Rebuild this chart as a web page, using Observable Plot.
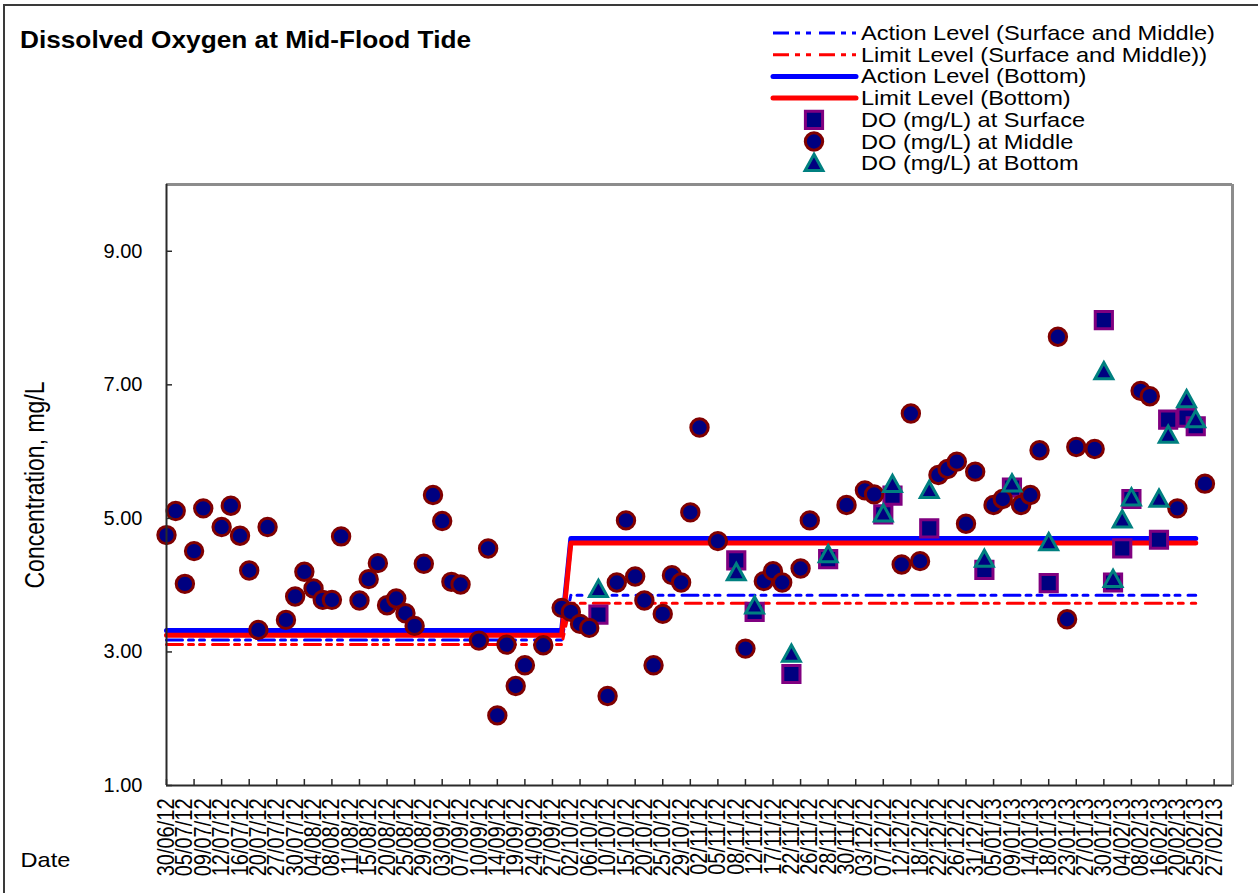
<!DOCTYPE html>
<html>
<head>
<meta charset="utf-8">
<script src="https://cdn.jsdelivr.net/npm/d3@7"></script>
<script src="https://cdn.jsdelivr.net/npm/@observablehq/plot@0.6"></script>
<style>
  html, body { margin: 0; padding: 0; background: #fff; }
  body { width: 1258px; height: 893px; overflow: hidden; position: relative;
         font-family: "Liberation Sans", Arial, sans-serif; }
  #outer { position: absolute; left: 3px; top: 4px; width: 1400px; height: 1000px; z-index: 10;
           border-left: 2px solid #3a3a3a; border-top: 2px solid #3a3a3a; pointer-events: none; }
  #header { display: block; position: relative; }
  #chart { position: relative; }
  #chart svg { display: block; }
</style>
</head>
<body>
<svg id="header" width="1258" height="180"></svg>
<div id="chart"></div>
<div id="outer"></div>
<script>
// ---------------- data ----------------
const chartTitle = "Dissolved Oxygen at Mid-Flood Tide";
const yAxisTitle = "Concentration, mg/L";
const xAxisTitle = "Date";

// x tick labels (one label for every second sampling day)
const dateLabels = ["30/06/12","05/07/12","09/07/12","12/07/12","16/07/12","20/07/12","27/07/12","30/07/12",
  "04/08/12","08/08/12","11/08/12","15/08/12","20/08/12","25/08/12","29/08/12","03/09/12","07/09/12",
  "10/09/12","14/09/12","19/09/12","24/09/12","27/09/12","02/10/12","06/10/12","10/10/12","15/10/12",
  "20/10/12","25/10/12","29/10/12","02/11/12","05/11/12","08/11/12","12/11/12","17/11/12","22/11/12",
  "26/11/12","28/11/12","30/11/12","03/12/12","07/12/12","12/12/12","18/12/12","22/12/12","26/12/12",
  "31/12/12","05/01/13","09/01/13","14/01/13","18/01/13","23/01/13","27/01/13","30/01/13","04/02/13",
  "08/02/13","16/02/13","20/02/13","25/02/13","27/02/13"];
const nCategories = 117;          // sampling-day slots on the category axis
const labelEvery = 2;             // a label on every 2nd slot
const tickEvery = 3;              // a tick mark on every 3rd slot

const yTicks = [1, 3, 5, 7, 9];
const yDomain = [1, 10];

// DO at middle depth, one value per sampling slot (null = no point)
const middleDO = [4.75,5.11,4.02,4.51,5.15,null,4.87,5.19,4.74,4.22,
  3.33,4.87,null,3.48,3.83,4.20,3.95,3.78,3.78,4.73,
  null,3.77,4.09,4.33,3.70,3.80,3.58,3.39,4.32,5.35,
  4.96,4.05,4.01,null,3.17,4.55,2.05,3.11,2.49,2.80,
  null,3.10,null,3.66,3.60,3.42,3.36,null,2.34,4.04,
  4.97,4.13,3.77,2.80,3.57,4.15,4.04,5.09,6.36,null,
  4.66,null,null,3.05,null,4.06,4.21,4.04,null,4.25,
  4.97,null,null,null,5.20,null,5.42,5.36,null,null,
  4.31,6.57,4.36,null,5.65,5.74,5.85,4.92,5.70,null,
  5.20,5.29,null,5.20,5.35,6.02,null,7.72,3.49,6.07,
  null,6.04,null,null,null,null,6.91,6.83,null,null,
  5.15,null,null,5.52];

// surface and bottom were sampled on these slots
const depthSlots = [47,62,64,68,72,78,79,83,89,92,96,102,103,104,105,108,109,111,112];
const surfaceDO  = [3.56,4.37,3.60,2.67,4.39,5.06,5.34,4.85,4.23,5.46,4.03,7.97,4.04,4.55,5.29,4.68,6.48,6.51,6.38];
const bottomDO   = [3.94,4.19,3.69,2.97,4.46,5.07,5.51,5.42,4.39,5.52,4.64,7.20,4.09,4.98,5.31,5.29,6.25,6.78,6.48];

// compliance levels: vertices of the stepped level lines
const levelSlots   = [0, 43, 44, 112];
const actionSM     = [3.18, 3.18, 3.85, 3.85];
const limitSM      = [3.11, 3.11, 3.73, 3.73];
const actionBottom = [3.32, 3.32, 4.70, 4.70];
const limitBottom  = [3.25, 3.25, 4.63, 4.63];

const legendLabels = ["Action Level (Surface and Middle)", "Limit Level (Surface and Middle))",
  "Action Level (Bottom)", "Limit Level (Bottom)", "DO (mg/L) at Surface", "DO (mg/L) at Middle", "DO (mg/L) at Bottom"];

// ---------------- styles ----------------
const FONT = "Liberation Sans, Arial, sans-serif";
const STRETCH = 1.18;
const BLUE = "#0000ff", RED = "#ff0000", NAVY = "#000080";
const DASHDOT = "16,6,5,6,5,8";

const squareSym = { draw(ctx, size) { const h = Math.sqrt(size / Math.PI);
  ctx.moveTo(-h, -h); ctx.lineTo(h, -h); ctx.lineTo(h, h); ctx.lineTo(-h, h); ctx.closePath(); } };
const triangleSym = { draw(ctx, size) { const h = Math.sqrt(size / Math.PI);
  ctx.moveTo(0, -h * 1.05); ctx.lineTo(h * 1.05, h * 0.85); ctx.lineTo(-h * 1.05, h * 0.85); ctx.closePath(); } };

const markerStyles = {
  surface: { symbol: squareSym, r: 8.6, fill: NAVY, stroke: "#800080", strokeWidth: 3 },
  middle:  { symbol: "circle", r: 8.7, fill: NAVY, stroke: "#800000", strokeWidth: 3 },
  bottom:  { symbol: triangleSym, r: 8.5, fill: NAVY, stroke: "#008080", strokeWidth: 3, strokeLinejoin: "miter" }
};
const lineStyles = [
  { stroke: BLUE, strokeWidth: 3, strokeDasharray: DASHDOT },
  { stroke: RED,  strokeWidth: 3, strokeDasharray: DASHDOT },
  { stroke: BLUE, strokeWidth: 5 },
  { stroke: RED,  strokeWidth: 5 }
];

// ---------------- tables ----------------
const middle = middleDO.map((v, i) => ({ i, v })).filter(d => d.v != null);
const surface = depthSlots.map((i, k) => ({ i, v: surfaceDO[k] }));
const bottom = depthSlots.map((i, k) => ({ i, v: bottomDO[k] }));
const levelSeries = [actionSM, limitSM, actionBottom, limitBottom]
  .map(vals => levelSlots.map((i, k) => ({ i, v: vals[k] })));
const labelSlots = dateLabels.map((_, k) => k * labelEvery);
const tickSlots = d3.range(0, labelSlots[labelSlots.length - 1] + 1, tickEvery);

// ---------------- plot ----------------
const W = 1258, H = 713;
const mTop = 4, mBottom = 108, mLeft = 166, mRight = 26;
const pxPerY = (H - mTop - mBottom) / (yDomain[1] - yDomain[0]);
const pxPerX = (W - mLeft - mRight) / (nCategories - 1);
const tickLen = 6;

const plot = Plot.plot({
  width: W, height: H,
  marginTop: mTop, marginBottom: mBottom, marginLeft: mLeft, marginRight: mRight,
  style: { fontFamily: FONT, fontSize: "20px", color: "#000", background: "#fff", overflow: "visible" },
  x: { type: "linear", domain: [0, nCategories - 1], axis: null },
  y: { type: "linear", domain: yDomain, axis: null },
  marks: [
    Plot.ruleY([yDomain[1]], { stroke: "#8c8c8c", strokeWidth: 3 }),
    Plot.ruleX([nCategories - 1], { stroke: "#8c8c8c", strokeWidth: 3 }),
    ...levelSeries.map((s, k) => Plot.line(s, { x: "i", y: "v", ...lineStyles[k] })),
    Plot.dot(surface, { x: "i", y: "v", ...markerStyles.surface }),
    Plot.dot(middle, { x: "i", y: "v", ...markerStyles.middle }),
    Plot.dot(bottom, { x: "i", y: "v", ...markerStyles.bottom }),
    Plot.ruleX([0], { stroke: "#2a2a2a", strokeWidth: 2 }),
    Plot.ruleY([yDomain[0]], { stroke: "#2a2a2a", strokeWidth: 2 }),
    Plot.ruleX(tickSlots, { x: d => d, y1: yDomain[0], y2: yDomain[0] + tickLen / pxPerY, stroke: "#2a2a2a", strokeWidth: 1.5 }),
    Plot.ruleY(yTicks, { y: d => d, x1: 0, x2: tickLen / pxPerX, stroke: "#2a2a2a", strokeWidth: 1.5 }),
    Plot.axisY({ ticks: yTicks, tickSize: 0, tickPadding: 24, tickFormat: d3.format(".2f"), fontSize: 20, label: null,
                 ariaLabel: "y-axis labels" }),
    Plot.axisX({ ticks: labelSlots, tickSize: 0, tickPadding: 13, tickRotate: -90,
                 tickFormat: i => dateLabels[i / labelEvery], fontSize: 20, label: null }),
    Plot.text([yAxisTitle], { frameAnchor: "left", dx: -131, rotate: -90, textAnchor: "middle", fontSize: 23, fill: "#000" }),
    Plot.text([xAxisTitle], { frameAnchor: "bottom-left", dx: -146, dy: 81, textAnchor: "start", fontSize: 20, fill: "#000" })
  ]
});
document.getElementById("chart").appendChild(plot);

// horizontal stretch of the text (the source picture is widened); y tick labels stay unstretched
plot.querySelectorAll("text").forEach(el => {
  const t = el.getAttribute("transform");
  if (!t) return;
  const rotated = /rotate\(\s*-?90/.test(t);
  const isYTick = /^\d+\.\d\d$/.test(el.textContent.trim());
  if (isYTick) return;
  el.setAttribute("transform", `${t} scale(${rotated ? 1 : STRETCH},${rotated ? STRETCH : 1})`);
});

// ---------------- header: title + legend ----------------
const hdr = d3.select("#header");
hdr.append("text")
  .attr("transform", `translate(20,48) scale(1.14,1)`)
  .attr("font-family", FONT).attr("font-weight", "bold").attr("font-size", 23)
  .text(chartTitle);

const lg = { x0: 773, x1: 856, mx: 814, tx: 861, y0: 33, dy: 21.7 };
const rows = hdr.append("g");
lineStyles.forEach((s, k) => {
  const y = lg.y0 + k * lg.dy;
  rows.append("line").attr("x1", lg.x0).attr("x2", lg.x1).attr("y1", y).attr("y2", y)
    .attr("stroke", s.stroke).attr("stroke-width", s.strokeWidth)
    .attr("stroke-dasharray", s.strokeDasharray || null)
    .attr("stroke-linecap", s.strokeDasharray ? "butt" : "round");
});
["surface", "middle", "bottom"].forEach((key, j) => {
  const k = 4 + j, y = lg.y0 + k * lg.dy, st = markerStyles[key];
  const sym = key === "middle" ? d3.symbolCircle : st.symbol;
  rows.append("path")
    .attr("d", d3.symbol(sym, st.r * st.r * Math.PI)())
    .attr("transform", `translate(${lg.mx},${y})`)
    .attr("fill", st.fill).attr("stroke", st.stroke).attr("stroke-width", st.strokeWidth);
});
legendLabels.forEach((label, k) => {
  const y = lg.y0 + k * lg.dy;
  rows.append("text")
    .attr("transform", `translate(${lg.tx},${y + 7}) scale(${STRETCH},1)`)
    .attr("font-family", FONT).attr("font-size", 20)
    .text(label);
});
</script>
</body>
</html>
